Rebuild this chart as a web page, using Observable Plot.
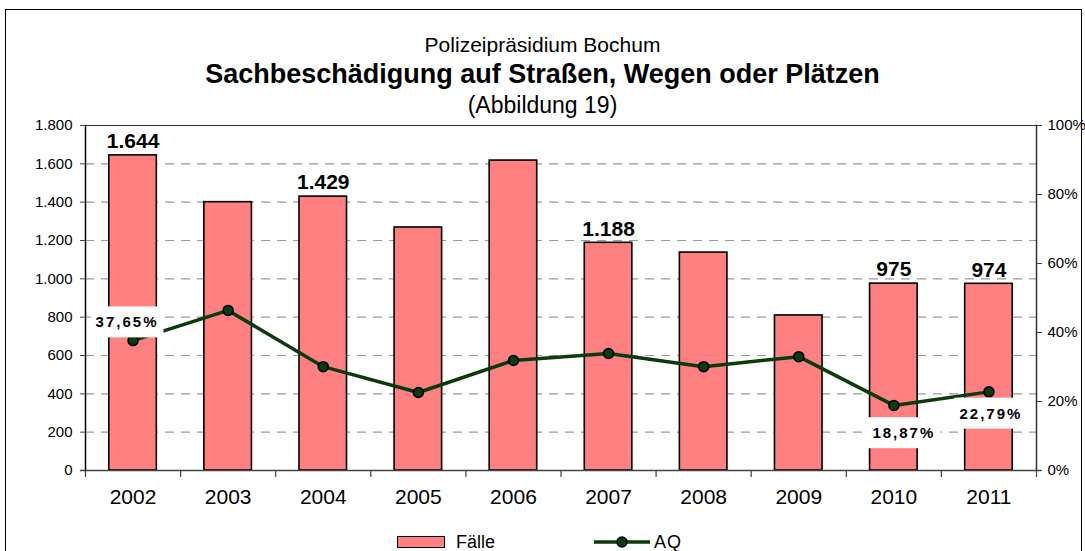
<!DOCTYPE html>
<html><head><meta charset="utf-8">
<script src="https://cdn.jsdelivr.net/npm/d3@7"></script>
<script src="https://cdn.jsdelivr.net/npm/@observablehq/plot@0.6"></script>
<style>
body{margin:0;background:#fff;font-family:"Liberation Sans",Arial,sans-serif;}
#wrap{position:relative;width:1085px;height:551px;overflow:hidden;}
#chart{position:absolute;left:0;top:0;}
#frame{position:absolute;left:5px;top:9px;width:1077px;height:580px;border:1.5px solid #000;box-sizing:border-box;pointer-events:none}
.t{position:absolute;left:0;width:1085px;text-align:center;color:#000;white-space:nowrap;line-height:1}
#sub{top:34px;font-size:21px;}
#title{top:61px;font-size:27px;font-weight:bold;}
#abb{top:94px;font-size:23px;}
.sw{position:absolute;top:536px;left:397px;width:46px;height:10px;background:#FF8080;border:1.5px solid #000;}
</style>
</head><body>
<div id="wrap">
  <div id="chart"></div>
  <div id="frame"></div>
  <div class="t" id="sub">Polizeipräsidium Bochum</div>
  <div class="t" id="title">Sachbeschädigung auf Straßen, Wegen oder Plätzen</div>
  <div class="t" id="abb">(Abbildung 19)</div>
  <div class="sw"></div>
  <div style="position:absolute;left:456px;top:533px;font-size:18px;line-height:1">Fälle</div>
  <svg style="position:absolute;left:590px;top:532px" width="64" height="20"><line x1="4" x2="60" y1="10" y2="10" stroke="#0b3b0b" stroke-width="3.5"/><circle cx="32" cy="10" r="5" fill="#0b3b0b" stroke="#000" stroke-width="1.5"/></svg>
  <div style="position:absolute;left:654px;top:533px;font-size:18px;line-height:1;letter-spacing:1px">AQ</div>
</div>
<script>
// ---- data ----
const years = ["2002","2003","2004","2005","2006","2007","2008","2009","2010","2011"];
const faelle = [1644, 1400, 1429, 1268, 1617, 1188, 1137, 809, 975, 974];
const aq = [37.65, 46.4, 30.1, 22.6, 31.9, 33.9, 30.1, 33.0, 18.87, 22.79];
const countLabelYears = ["2002","2004","2007","2010","2011"];
const aqLabelYears = ["2002","2010","2011"];
const leftTicks = [0,200,400,600,800,1000,1200,1400,1600,1800];
const pctTicks = [0,20,40,60,80,100];

// ---- layout ----
const W = 1085, H = 551, ML = 85, MR = 49, MT = 125, MB = 81;
const step = (W - ML - MR) / years.length;
const pctToCount = 1800 / 100;
const labelOffsets = {"2002": [-6, -18], "2010": [10, 28], "2011": [2, 22]};
const PCT_FILL = "#000001";

const de = d3.formatLocale({decimal: ",", thousands: ".", grouping: [3], currency: ["", "€"]});
const fmtInt = de.format(",d");
const fmtPct = de.format(".2f");

const data = years.map((y, i) => ({year: y, faelle: faelle[i], aq: aq[i]}));

const pctMarks = aqLabelYears.map(y => {
  const [dx, dy] = labelOffsets[y];
  return Plot.text(data.filter(d => d.year === y), {
    x: "year", y: d => d.aq * pctToCount, text: d => fmtPct(d.aq) + "%",
    dx, dy, fontWeight: "bold", fontSize: 15, fill: PCT_FILL
  });
});

const chart = Plot.plot({
  width: W, height: H,
  marginLeft: ML, marginRight: MR, marginTop: MT, marginBottom: MB,
  style: {fontFamily: "Liberation Sans, Arial, sans-serif", background: "transparent", overflow: "visible"},
  x: {type: "band", domain: years, paddingInner: 0.5, paddingOuter: 0.25, round: false},
  y: {domain: [0, 1800]},
  marks: [
    Plot.ruleY(leftTicks.filter(d => d > 0 && d < 1800), {stroke: "#9a9a9a", strokeWidth: 1.2, strokeDasharray: "9,7"}),
    Plot.ruleY([1800], {stroke: "#333", strokeWidth: 1.2}),
    Plot.barY(data, {x: "year", y: "faelle", fill: "#FF8080", stroke: "#000", strokeWidth: 1.6}),
    Plot.ruleY([0], {stroke: "#444", strokeWidth: 1.6, insetLeft: -5, insetRight: -5}),
    Plot.ruleX(years, {x: d => d, dx: -step / 2, y1: 0, y2: 0, insetBottom: -7, stroke: "#444", strokeWidth: 1.2}),
    Plot.ruleX([years[years.length - 1]], {x: d => d, dx: step / 2, y1: 0, y2: 0, insetBottom: -7, stroke: "#444", strokeWidth: 1.2}),
    Plot.frame({anchor: "left", stroke: "#000", strokeWidth: 1.5}),
    Plot.frame({anchor: "right", stroke: "#333", strokeWidth: 1.5}),
    Plot.axisY(leftTicks, {anchor: "left", label: null, tickFormat: fmtInt, tickSize: 5, tickPadding: 8, fontSize: 15, stroke: "#444"}),
    Plot.axisY(pctTicks.map(p => p * pctToCount), {anchor: "right", label: null, tickFormat: d => Math.round(d / pctToCount) + "%", tickSize: 5, tickPadding: 6, fontSize: 15, stroke: "#444"}),
    Plot.axisX({label: null, tickSize: 0, tickPadding: 19, fontSize: 21}),
    Plot.text(data.filter(d => countLabelYears.includes(d.year)), {x: "year", y: "faelle", text: d => fmtInt(d.faelle), dy: -14, fontWeight: "bold", fontSize: 21, fill: "#000"}),
    Plot.line(data, {x: "year", y: d => d.aq * pctToCount, stroke: "#0b3b0b", strokeWidth: 3.5}),
    Plot.dot(data, {x: "year", y: d => d.aq * pctToCount, r: 5, fill: "#0b3b0b", stroke: "#000", strokeWidth: 1.5}),
    ...pctMarks
  ]
});
document.getElementById("chart").appendChild(chart);

// white boxes behind percentage labels
chart.querySelectorAll(`g[fill="${PCT_FILL}"] text`).forEach(t => {
  t.style.letterSpacing = "2px";
  const b = t.getBBox();
  const r = document.createElementNS("http://www.w3.org/2000/svg", "rect");
  r.setAttribute("x", b.x - 5);
  r.setAttribute("y", b.y - 7);
  r.setAttribute("width", b.width + 10);
  r.setAttribute("height", b.height + 14);
  r.setAttribute("fill", "#fff");
  if (t.getAttribute("transform")) r.setAttribute("transform", t.getAttribute("transform"));
  t.parentNode.insertBefore(r, t);
});
</script>
</body></html>
